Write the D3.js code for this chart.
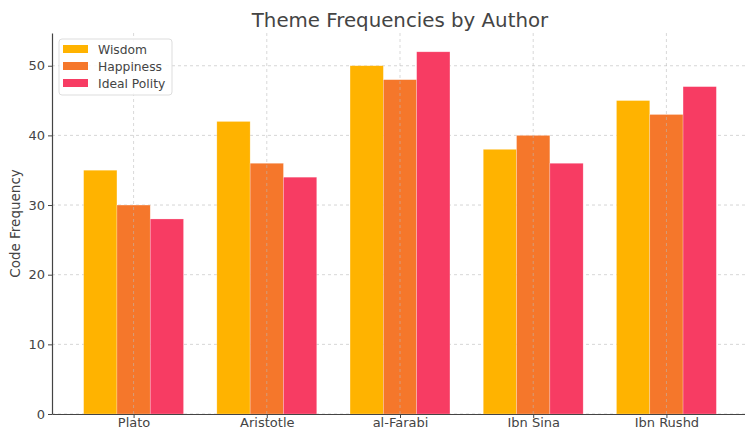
<!DOCTYPE html>
<html>
<head>
<meta charset="utf-8">
<script src="https://cdn.jsdelivr.net/npm/d3@7"></script>
<style>
  body { margin: 0; background: #fff; }
  text { font-family: "DejaVu Sans", sans-serif; fill: #444; }
</style>
</head>
<body>
<div id="chart"></div>
<script>
var authors = ["Plato", "Aristotle", "al-Farabi", "Ibn Sina", "Ibn Rushd"];
var themes = ["Wisdom", "Happiness", "Ideal Polity"];
var wisdom = [35, 42, 50, 38, 45];
var happiness = [30, 36, 48, 40, 43];
var idealPolity = [28, 34, 52, 36, 47];
var yTicks = [0, 10, 20, 30, 40, 50];
var colors = ["#FFB300", "#F5772B", "#F73C63"];

var series = [wisdom, happiness, idealPolity];

var width = 745, height = 431;
var margin = { left: 52, right: -3, top: 33, bottom: 17 };

var svg = d3.select("#chart")
  .append("svg")
    .attr("width", width)
    .attr("height", height);

// x in matplotlib-like units: bars at i-0.25, i, i+0.25, width 0.25
var x = d3.scaleLinear()
    .domain([-0.6125, 4.6125])
    .range([margin.left, width - margin.right]);
var y = d3.scaleLinear()
    .domain([0, 54.7])
    .range([height - margin.bottom, margin.top]);

var barW = 0.25;

// horizontal grid (behind bars)
svg.append("g")
  .selectAll("line")
  .data(yTicks)
  .enter()
  .append("line")
    .attr("x1", margin.left)
    .attr("x2", width)
    .attr("y1", function(d) { return y(d); })
    .attr("y2", function(d) { return y(d); })
    .style("stroke", "#ccc")
    .style("stroke-width", 0.8)
    .style("stroke-dasharray", "3,3");

// bars
series.forEach(function(vals, s) {
  svg.append("g")
    .selectAll("rect")
    .data(vals)
    .enter()
    .append("rect")
      .attr("x", function(d, i) { return x(i + (s - 1) * barW - barW / 2); })
      .attr("width", x(barW) - x(0))
      .attr("y", function(d) { return y(d); })
      .attr("height", function(d) { return y(0) - y(d); })
      .style("fill", colors[s])
      .style("stroke", "#fff")
      .style("stroke-opacity", 0.4)
      .style("stroke-width", 0.6);
});

// vertical grid (drawn over bars)
svg.append("g")
  .selectAll("line")
  .data(authors)
  .enter()
  .append("line")
    .attr("x1", function(d, i) { return x(i); })
    .attr("x2", function(d, i) { return x(i); })
    .attr("y1", margin.top)
    .attr("y2", y(0))
    .style("stroke", "#bbb")
    .style("stroke-opacity", 0.7)
    .style("stroke-width", 0.8)
    .style("stroke-dasharray", "3,3");

// axes
var xAxis = d3.axisBottom(x)
    .tickValues(d3.range(authors.length))
    .tickFormat(function(d) { return authors[d]; })
    .tickSize(4)
    .tickSizeOuter(0);
var gx = svg.append("g")
    .attr("transform", "translate(0," + y(0) + ")")
    .call(xAxis);
gx.select(".domain").style("stroke", "#444").style("stroke-width", 1.2);
gx.selectAll(".tick line").style("stroke", "#444");
gx.selectAll("text").style("font-size", "13px").style("fill", "#444").attr("y", 4);

var yAxis = d3.axisLeft(y)
    .tickValues(yTicks)
    .tickSize(4)
    .tickSizeOuter(0);
var gy = svg.append("g")
    .attr("transform", "translate(" + margin.left + ",0)")
    .call(yAxis);
gy.select(".domain").style("stroke", "#444").style("stroke-width", 1.2);
gy.selectAll(".tick line").style("stroke", "#444");
gy.selectAll("text").style("font-size", "13px").style("fill", "#444");

// title and y label
svg.append("text")
    .attr("x", 400)
    .attr("y", 27)
    .attr("text-anchor", "middle")
    .style("font-size", "19.8px")
    .text("Theme Frequencies by Author");

svg.append("text")
    .attr("transform", "translate(20," + ((y(0) + margin.top) / 2) + ") rotate(-90)")
    .attr("text-anchor", "middle")
    .style("font-size", "13.5px")
    .text("Code Frequency");

// legend
var legend = svg.append("g").attr("transform", "translate(59,39)");
legend.append("rect")
    .attr("width", 113)
    .attr("height", 56)
    .attr("rx", 3)
    .style("fill", "#fff")
    .style("fill-opacity", 0.85)
    .style("stroke", "#ddd");
themes.forEach(function(t, i) {
  legend.append("rect")
      .attr("x", 4)
      .attr("y", 6 + i * 17)
      .attr("width", 25)
      .attr("height", 8)
      .style("fill", colors[i]);
  legend.append("text")
      .attr("x", 39)
      .attr("y", 14.5 + i * 17)
      .style("font-size", "12.3px")
      .text(t);
});
</script>
</body>
</html>
